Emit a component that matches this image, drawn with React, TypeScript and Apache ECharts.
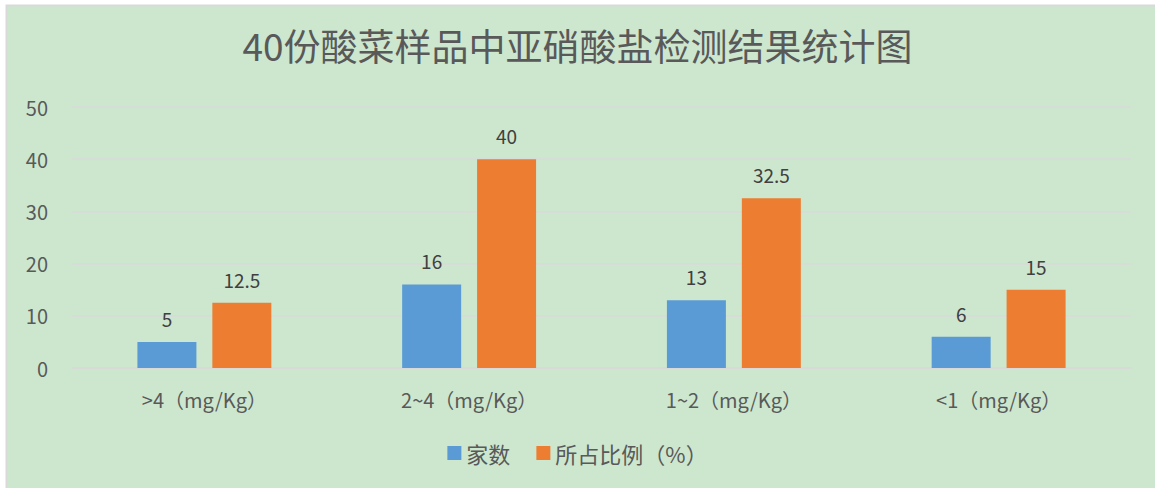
import React, { useEffect, useRef } from "react";
import * as echarts from "echarts";

const categories = [">4（mg/Kg）", "2~4（mg/Kg）", "1~2（mg/Kg）", "<1（mg/Kg）"];
const countValues = [5, 16, 13, 6];
const ratioValues = [12.5, 40, 32.5, 15];
const seriesNames = ["家数", "所占比例（%）"];
const title = "40份酸菜样品中亚硝酸盐检测结果统计图";

const FONT = "'Noto Sans CJK SC', 'Noto Sans', sans-serif";

export default function App() {
  const ref = useRef<HTMLDivElement>(null);
  useEffect(() => {
    document.body.style.margin = "0";
    const chart = echarts.init(ref.current!, null, { renderer: "svg" });
    chart.setOption({
      animation: false,
      backgroundColor: "#ffffff",
      textStyle: { fontFamily: FONT },
      graphic: [
        {
          type: "rect",
          shape: { x: 6.5, y: 5.5, width: 1160, height: 490 },
          style: { fill: "#cde7cf", stroke: "#d9d9d9", lineWidth: 2 },
          z: -10,
        },
      ],
      title: {
        text: title,
        left: "center",
        top: 21,
        textStyle: { fontFamily: FONT, fontSize: 37, fontWeight: "normal", color: "#595959" },
      },
      legend: {
        data: seriesNames,
        bottom: 19,
        left: "center",
        itemWidth: 14,
        itemHeight: 14,
        itemGap: 26,
        icon: "rect",
        textStyle: { fontFamily: FONT, fontSize: 22, color: "#595959" },
      },
      grid: { left: 72, right: 24, top: 107, bottom: 120, containLabel: false },
      xAxis: {
        type: "category",
        data: categories,
        axisLine: { show: true, lineStyle: { color: "#d9d9d9", width: 1.5 } },
        axisTick: { show: false },
        axisLabel: { fontFamily: FONT, fontSize: 20, color: "#595959", margin: 21 },
      },
      yAxis: {
        type: "value",
        min: 0,
        max: 50,
        interval: 10,
        axisLine: { show: false },
        axisTick: { show: false },
        splitLine: { lineStyle: { color: "#d9d9d9", width: 1.5 } },
        axisLabel: { fontFamily: FONT, fontSize: 20, color: "#595959", margin: 24 },
      },
      series: [
        {
          name: seriesNames[0],
          type: "bar",
          data: countValues,
          barWidth: 59,
          barGap: "27%",
          itemStyle: { color: "#5b9bd5" },
          label: { show: true, position: "top", distance: 14, fontFamily: FONT, fontSize: 19, color: "#404040" },
        },
        {
          name: seriesNames[1],
          type: "bar",
          data: ratioValues,
          barWidth: 59,
          barGap: "27%",
          itemStyle: { color: "#ed7d31" },
          label: { show: true, position: "top", distance: 14, fontFamily: FONT, fontSize: 19, color: "#404040" },
        },
      ],
    });
    return () => chart.dispose();
  }, []);
  return <div ref={ref} style={{ width: 1155, height: 488 }} />;
}
